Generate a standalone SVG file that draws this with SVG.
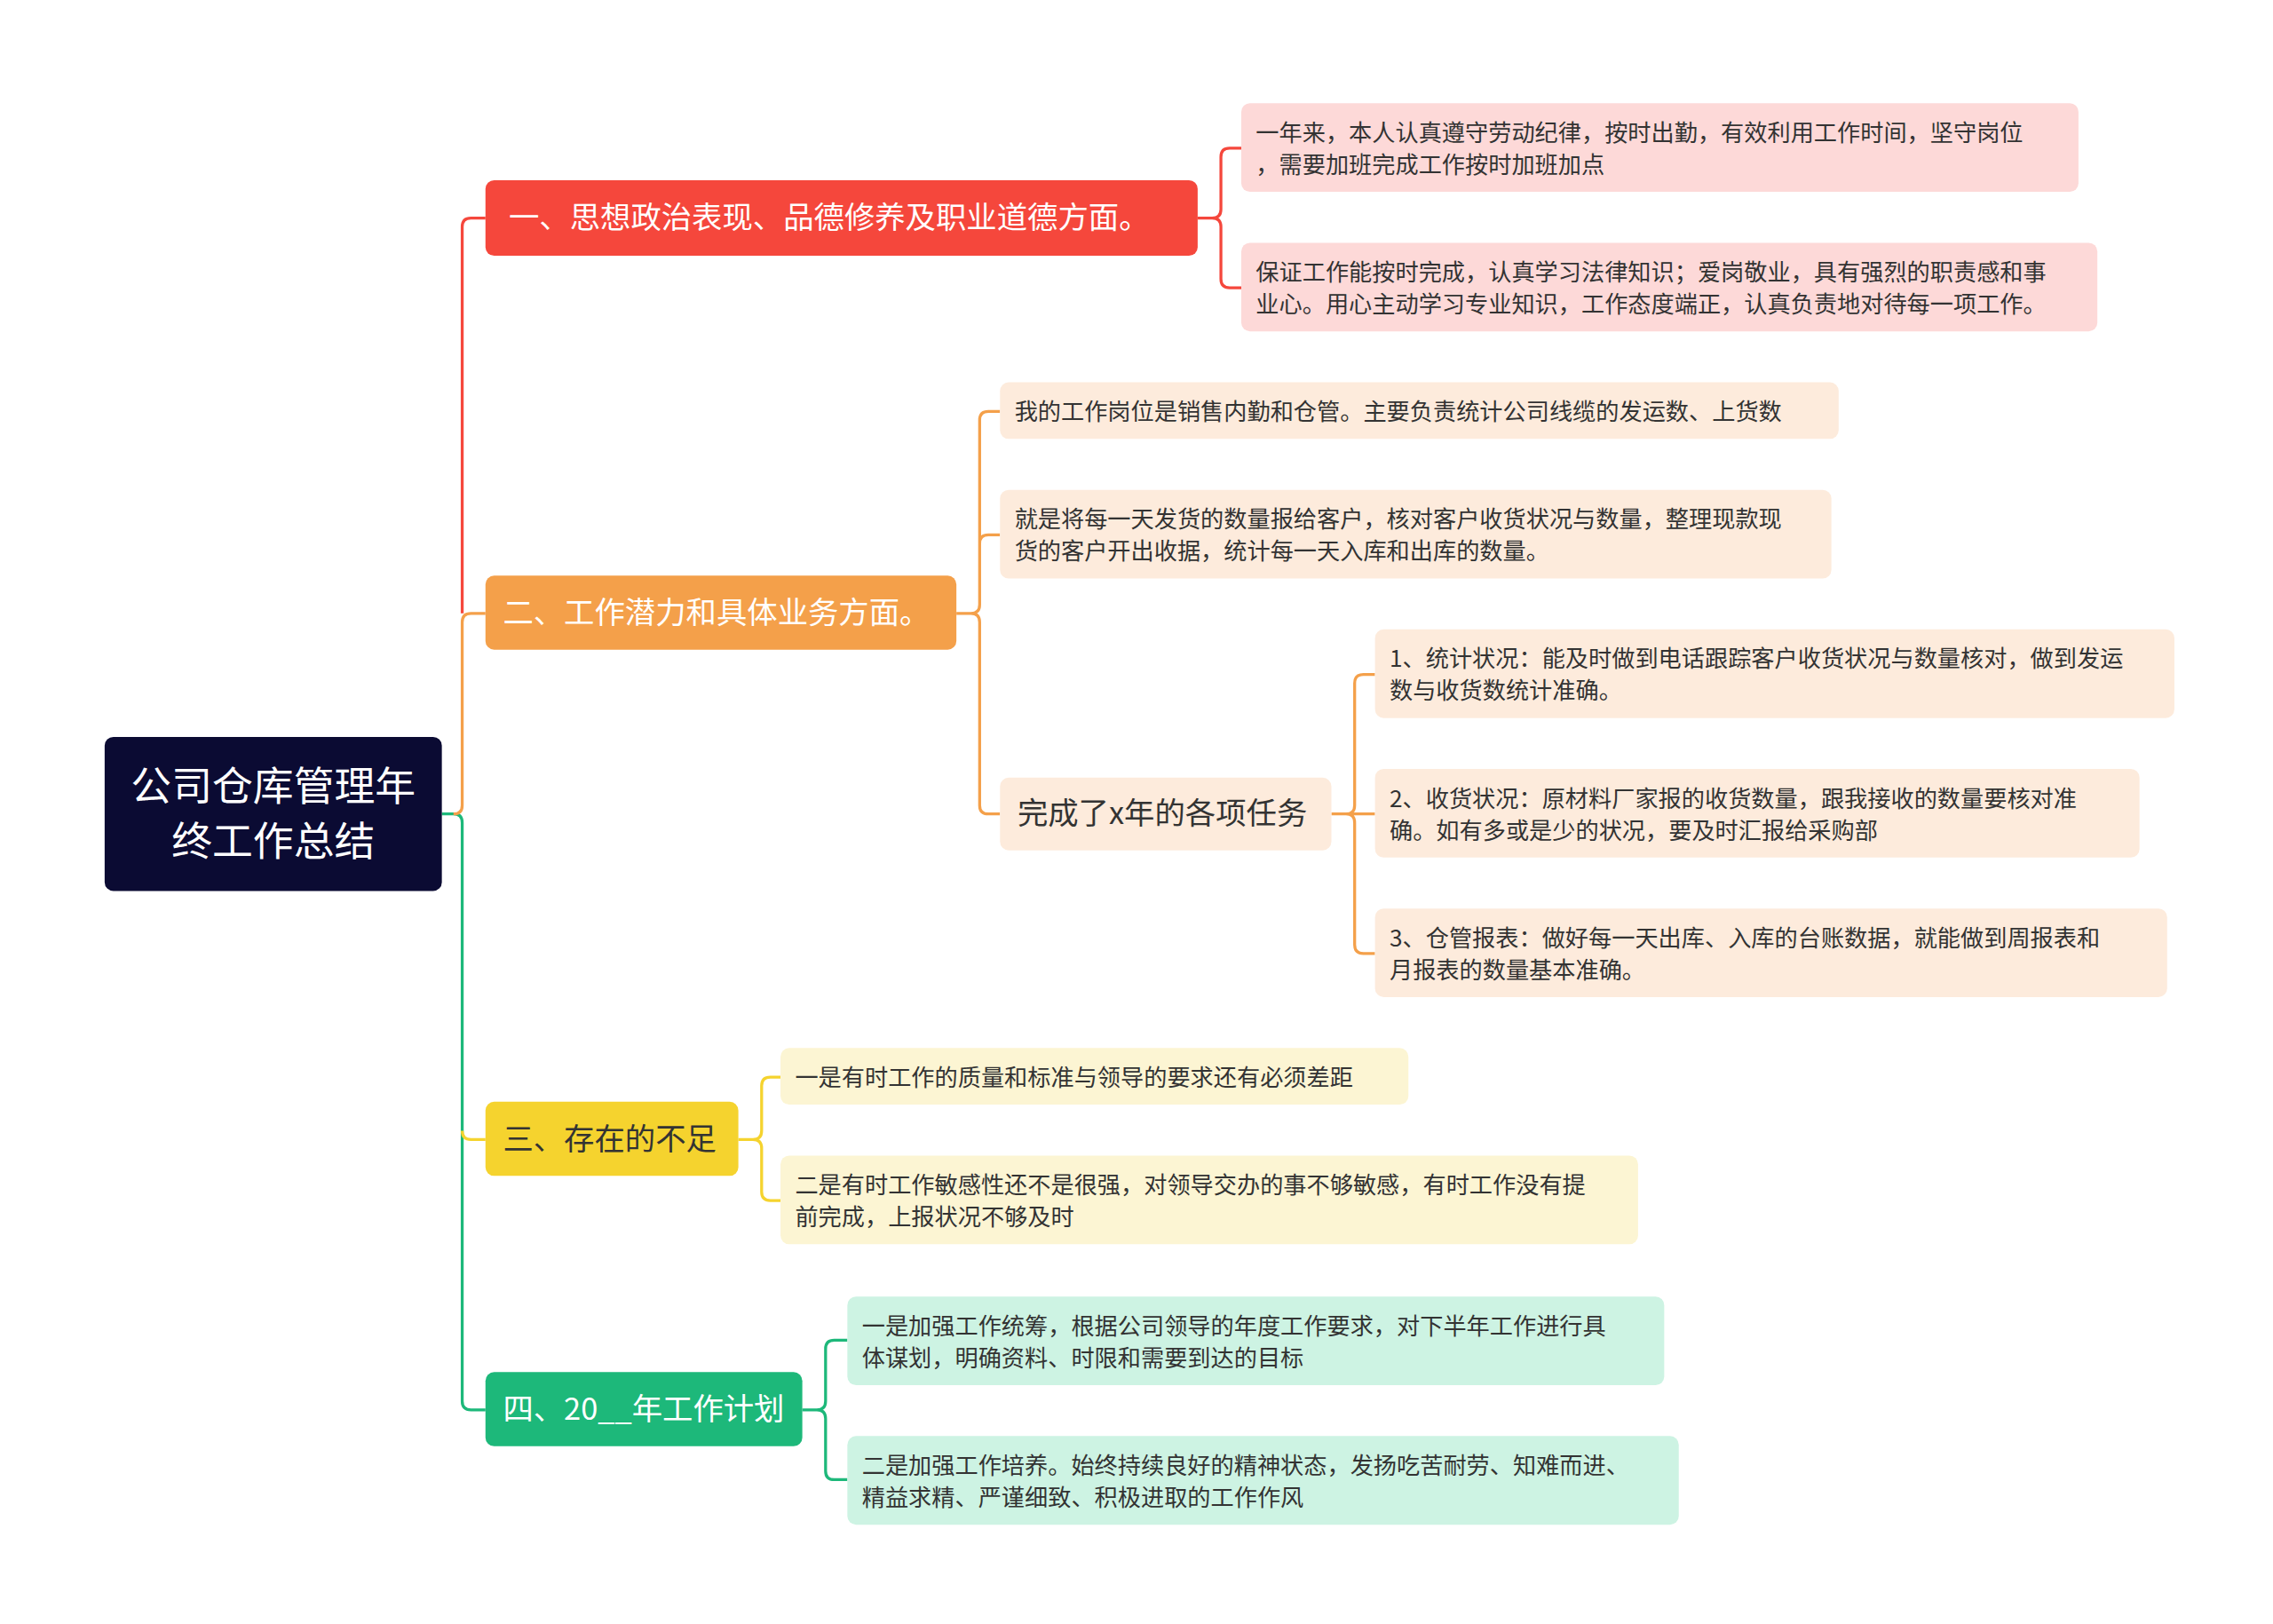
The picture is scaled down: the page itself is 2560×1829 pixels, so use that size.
<svg xmlns="http://www.w3.org/2000/svg" width="2560" height="1829" viewBox="0 0 2560 1829">
<style>
text{font-family:"Noto Sans CJK SC","Noto Sans",sans-serif}
.l{font-size:16px;fill:#333}
.b{font-size:21px}
.c{fill:none;stroke-width:2}
</style>
<rect width="2560" height="1829" fill="#fff"/>
<g transform="scale(1.637)">
<g id="connectors">
<path class="c" stroke="#1db87a" d="M304,560 H312 Q318,560 318,566 V964 Q318,970 324,970 H334"/>
<path class="c" stroke="#f5473c" d="M318,422 V156 Q318,150 324,150 H334"/>
<path class="c" stroke="#f4a04a" d="M312,560 Q318,560 318,554 V428 Q318,422 324,422 H334"/>
<path class="c" stroke="#f5d32e" d="M318,778 Q318,784 324,784 H334"/>
<path class="c" stroke="#f5473c" d="M824,150 H834 Q840,150 840,144 V108 Q840,102 846,102 H854 M834,150 Q840,150 840,156 V192 Q840,198 846,198 H854"/>
<path class="c" stroke="#f4a04a" d="M658,422 H668 Q674,422 674,416 V289 Q674,283 680,283 H688 M674,374 Q674,368 680,368 H688 M668,422 Q674,422 674,428 V554 Q674,560 680,560 H688"/>
<path class="c" stroke="#f4a04a" d="M916,560 H926 Q932,560 932,554 V470 Q932,464 938,464 H946 M926,560 H946 M926,560 Q932,560 932,566 V650 Q932,656 938,656 H946"/>
<path class="c" stroke="#f5d32e" d="M508,784 H518 Q524,784 524,778 V747 Q524,741 530,741 H537 M518,784 Q524,784 524,790 V820 Q524,826 530,826 H537"/>
<path class="c" stroke="#1db87a" d="M552,970 H562 Q568,970 568,964 V928 Q568,922 574,922 H583 M562,970 Q568,970 568,976 V1012 Q568,1018 574,1018 H583"/>
</g>
<g id="root"><rect x="72" y="507" width="232" height="106" rx="6" fill="#0b0b33"/>
<text x="188" y="551" font-size="28" fill="#fff" text-anchor="middle">公司仓库管理年</text>
<text x="188" y="589" font-size="28" fill="#fff" text-anchor="middle">终工作总结</text></g>
<g id="b1"><rect x="334" y="124" width="490" height="52" rx="6" fill="#f5473c"/><text class="b" x="350" y="157" fill="#fff">一、思想政治表现、品德修养及职业道德方面。</text></g>
<g id="b1l1"><rect x="854" y="71" width="576" height="61" rx="6" fill="#fdd9d8"/><text class="l" x="864" y="97">一年来，本人认真遵守劳动纪律，按时出勤，有效利用工作时间，坚守岗位</text><text class="l" x="864" y="119">，需要加班完成工作按时加班加点</text></g>
<g id="b1l2"><rect x="854" y="167" width="589" height="61" rx="6" fill="#fdd9d8"/><text class="l" x="864" y="193">保证工作能按时完成，认真学习法律知识；爱岗敬业，具有强烈的职责感和事</text><text class="l" x="864" y="215">业心。用心主动学习专业知识，工作态度端正，认真负责地对待每一项工作。</text></g>
<g id="b2"><rect x="334" y="396" width="324" height="51" rx="6" fill="#f4a04a"/><text class="b" x="346" y="429" fill="#fff">二、工作潜力和具体业务方面。</text></g>
<g id="b2l1"><rect x="688" y="263" width="577" height="39" rx="6" fill="#fdebdc"/><text class="l" x="698" y="289">我的工作岗位是销售内勤和仓管。主要负责统计公司线缆的发运数、上货数</text></g>
<g id="b2l2"><rect x="688" y="337" width="572" height="61" rx="6" fill="#fdebdc"/><text class="l" x="698" y="363">就是将每一天发货的数量报给客户，核对客户收货状况与数量，整理现款现</text><text class="l" x="698" y="385">货的客户开出收据，统计每一天入库和出库的数量。</text></g>
<g id="b2s"><rect x="688" y="535" width="228" height="50" rx="6" fill="#fdebdc"/><text class="b" x="700" y="567" fill="#333">完成了x年的各项任务</text></g>
<g id="b2s1"><rect x="946" y="433" width="550" height="61" rx="6" fill="#fdebdc"/><text class="l" x="956" y="459">1、统计状况：能及时做到电话跟踪客户收货状况与数量核对，做到发运</text><text class="l" x="956" y="481">数与收货数统计准确。</text></g>
<g id="b2s2"><rect x="946" y="529" width="526" height="61" rx="6" fill="#fdebdc"/><text class="l" x="956" y="555"> 2、收货状况：原材料厂家报的收货数量，跟我接收的数量要核对准</text><text class="l" x="956" y="577">确。如有多或是少的状况，要及时汇报给采购部</text></g>
<g id="b2s3"><rect x="946" y="625" width="545" height="61" rx="6" fill="#fdebdc"/><text class="l" x="956" y="651">3、仓管报表：做好每一天出库、入库的台账数据，就能做到周报表和</text><text class="l" x="956" y="673">月报表的数量基本准确。</text></g>
<g id="b3"><rect x="334" y="758" width="174" height="51" rx="6" fill="#f5d32e"/><text class="b" x="346" y="791" fill="#333">三、存在的不足</text></g>
<g id="b3l1"><rect x="537" y="721" width="432" height="39" rx="6" fill="#fcf5d3"/><text class="l" x="547" y="747">一是有时工作的质量和标准与领导的要求还有必须差距</text></g>
<g id="b3l2"><rect x="537" y="795" width="590" height="61" rx="6" fill="#fcf5d3"/><text class="l" x="547" y="821">二是有时工作敏感性还不是很强，对领导交办的事不够敏感，有时工作没有提</text><text class="l" x="547" y="843">前完成，上报状况不够及时</text></g>
<g id="b4"><rect x="334" y="944" width="218" height="51" rx="6" fill="#1db87a"/><text class="b" x="346" y="977" fill="#fff">四、20__年工作计划</text></g>
<g id="b4l1"><rect x="583" y="892" width="562" height="61" rx="6" fill="#cdf3e3"/><text class="l" x="593" y="918"> 一是加强工作统筹，根据公司领导的年度工作要求，对下半年工作进行具</text><text class="l" x="593" y="940">体谋划，明确资料、时限和需要到达的目标</text></g>
<g id="b4l2"><rect x="583" y="988" width="572" height="61" rx="6" fill="#cdf3e3"/><text class="l" x="593" y="1014">二是加强工作培养。始终持续良好的精神状态，发扬吃苦耐劳、知难而进、</text><text class="l" x="593" y="1036">精益求精、严谨细致、积极进取的工作作风</text></g>
</g>
</svg>
